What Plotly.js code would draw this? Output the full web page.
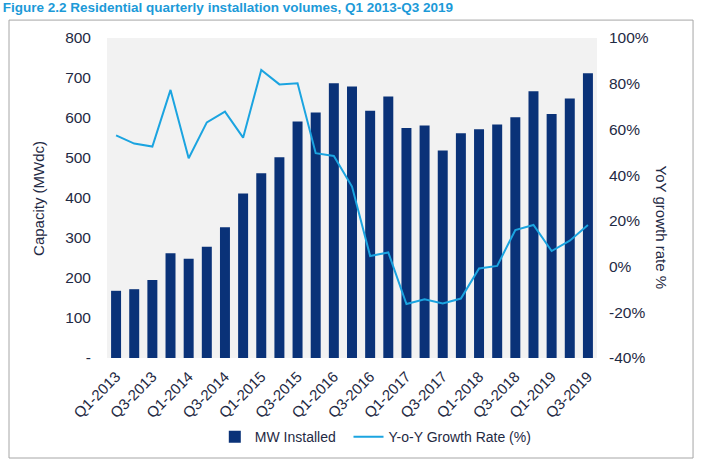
<!DOCTYPE html>
<html>
<head>
<meta charset="utf-8">
<script src="https://cdn.plot.ly/plotly-3.0.1.min.js"></script>
<style>
  body { margin: 0; background: #fff; }
  #chart { width: 704px; height: 465px; }
</style>
</head>
<body>
<div id="chart"></div>
<script>
// quarters Q1-2013 .. Q3-2019
const quarters = [
  'Q1-2013', 'Q2-2013', 'Q3-2013', 'Q4-2013',
  'Q1-2014', 'Q2-2014', 'Q3-2014', 'Q4-2014',
  'Q1-2015', 'Q2-2015', 'Q3-2015', 'Q4-2015',
  'Q1-2016', 'Q2-2016', 'Q3-2016', 'Q4-2016',
  'Q1-2017', 'Q2-2017', 'Q3-2017', 'Q4-2017',
  'Q1-2018', 'Q2-2018', 'Q3-2018', 'Q4-2018',
  'Q1-2019', 'Q2-2019', 'Q3-2019',
]
// MW installed
const mwInstalled = [
  168, 172, 195, 262, 248, 278, 327, 411, 462, 502, 591, 614, 687, 679,
  618, 654, 575, 581, 519, 562, 572, 584, 602, 667, 610, 649, 712,
]
// yoy growth (%)
const yoyGrowth = [
  57.4, 53.8, 52.5, 77.3, 47.4, 63.1, 67.8, 56.4, 86.0, 79.7, 80.2, 49.6,
  48.4, 35.0, 4.6, 6.2, -16.4, -14.3, -16.1, -14.0, -0.8, 0.3, 16.0, 18.2,
  6.8, 11.3, 18.2,
]
const leftTicks = [0, 100, 200, 300, 400, 500, 600, 700, 800]
const leftTickText = ['-', '100', '200', '300', '400', '500', '600', '700', '800']
const rightTicks = [-40, -20, 0, 20, 40, 60, 80, 100]
// plain hyphen like the original, not the unicode minus plotly uses
const rightTickText = ['-40%', '-20%', '0%', '20%', '40%', '60%', '80%', '100%']

const textColor = '#1f2a44'
const font = "'Liberation Sans', Arial, sans-serif"

// only every second quarter gets a label
const shownTicks = quarters.filter((q, i) => i % 2 == 0)

let bars = {
  type: 'bar',
  // two nbsp to widen the gap before the next legend item
  name: 'MW Installed\u00a0\u00a0',
  x: quarters,
  y: mwInstalled,
  marker: { color: '#0a3278' },
  yaxis: 'y',
}
let growthLine = {
  type: 'scatter',
  mode: 'lines',
  name: 'Y-o-Y Growth Rate (%)',
  x: quarters,
  y: yoyGrowth,
  line: { color: '#1ba4e0', width: 2 },
  yaxis: 'y2',
}

let layout = {
  width: 704,
  height: 465,
  margin: { l: 107, r: 107, t: 38, b: 107 },
  paper_bgcolor: '#ffffff',
  plot_bgcolor: '#f2f2f2',
  font: { family: font, color: textColor, size: 15 },
  bargap: 0.45,
  showlegend: true,
  title: {
    text: '<b>Figure 2.2 Residential quarterly installation volumes, Q1 2013-Q3 2019</b>',
    x: 0.004,
    xref: 'container',
    xanchor: 'left',
    y: 0.995,
    yref: 'container',
    yanchor: 'top',
    font: { family: font, size: 13.5, color: '#1c9ad8' },
  },
  xaxis: {
    type: 'category',
    range: [-0.5, 26.5],
    tickvals: shownTicks,
    ticktext: shownTicks,
    tickangle: -45,
    tickfont: { size: 15, color: textColor },
    ticklabelstandoff: 6,
    showgrid: false,
    showline: false,
    ticks: '',
  },
  yaxis: {
    range: [0, 800],
    tickvals: leftTicks,
    ticktext: leftTickText,
    tickfont: { size: 15.5, color: textColor },
    ticklabelstandoff: 15,
    showgrid: false,
    zeroline: false,
    ticks: '',
  },
  yaxis2: {
    range: [-40, 100],
    tickvals: rightTicks,
    ticktext: rightTickText,
    overlaying: 'y',
    side: 'right',
    tickfont: { size: 15.5, color: textColor },
    ticklabelstandoff: 11,
    showgrid: false,
    zeroline: false,
    ticks: '',
  },
  legend: {
    orientation: 'h',
    x: 0.22,
    xanchor: 'left',
    y: -0.247,
    yanchor: 'middle',
    font: { size: 14, color: textColor },
    bgcolor: 'rgba(0,0,0,0)',
  },
  // axis titles as annotations so the right one reads top-down
  annotations: [
    {
      xref: 'paper',
      yref: 'paper',
      x: -0.141,
      y: 0.5,
      xanchor: 'center',
      yanchor: 'middle',
      text: 'Capacity (MWdc)',
      textangle: -90,
      showarrow: false,
      font: { size: 15, color: textColor },
    },
    {
      xref: 'paper',
      yref: 'paper',
      x: 1.131,
      y: 0.41,
      xanchor: 'center',
      yanchor: 'middle',
      text: 'YoY growth rate %',
      textangle: 90,
      showarrow: false,
      font: { size: 15, color: textColor },
    },
  ],
  // outer frame round the chart
  shapes: [
    {
      type: 'rect',
      xref: 'paper',
      yref: 'paper',
      x0: -0.2,
      x1: 1.196,
      y0: -0.3125,
      y1: 1.056,
      line: { color: '#a6a6a6', width: 1 },
      layer: 'below',
    },
  ],
}

Plotly.newPlot('chart', [bars, growthLine], layout, {
  displayModeBar: false,
  staticPlot: true,
})
</script>
</body>
</html>
